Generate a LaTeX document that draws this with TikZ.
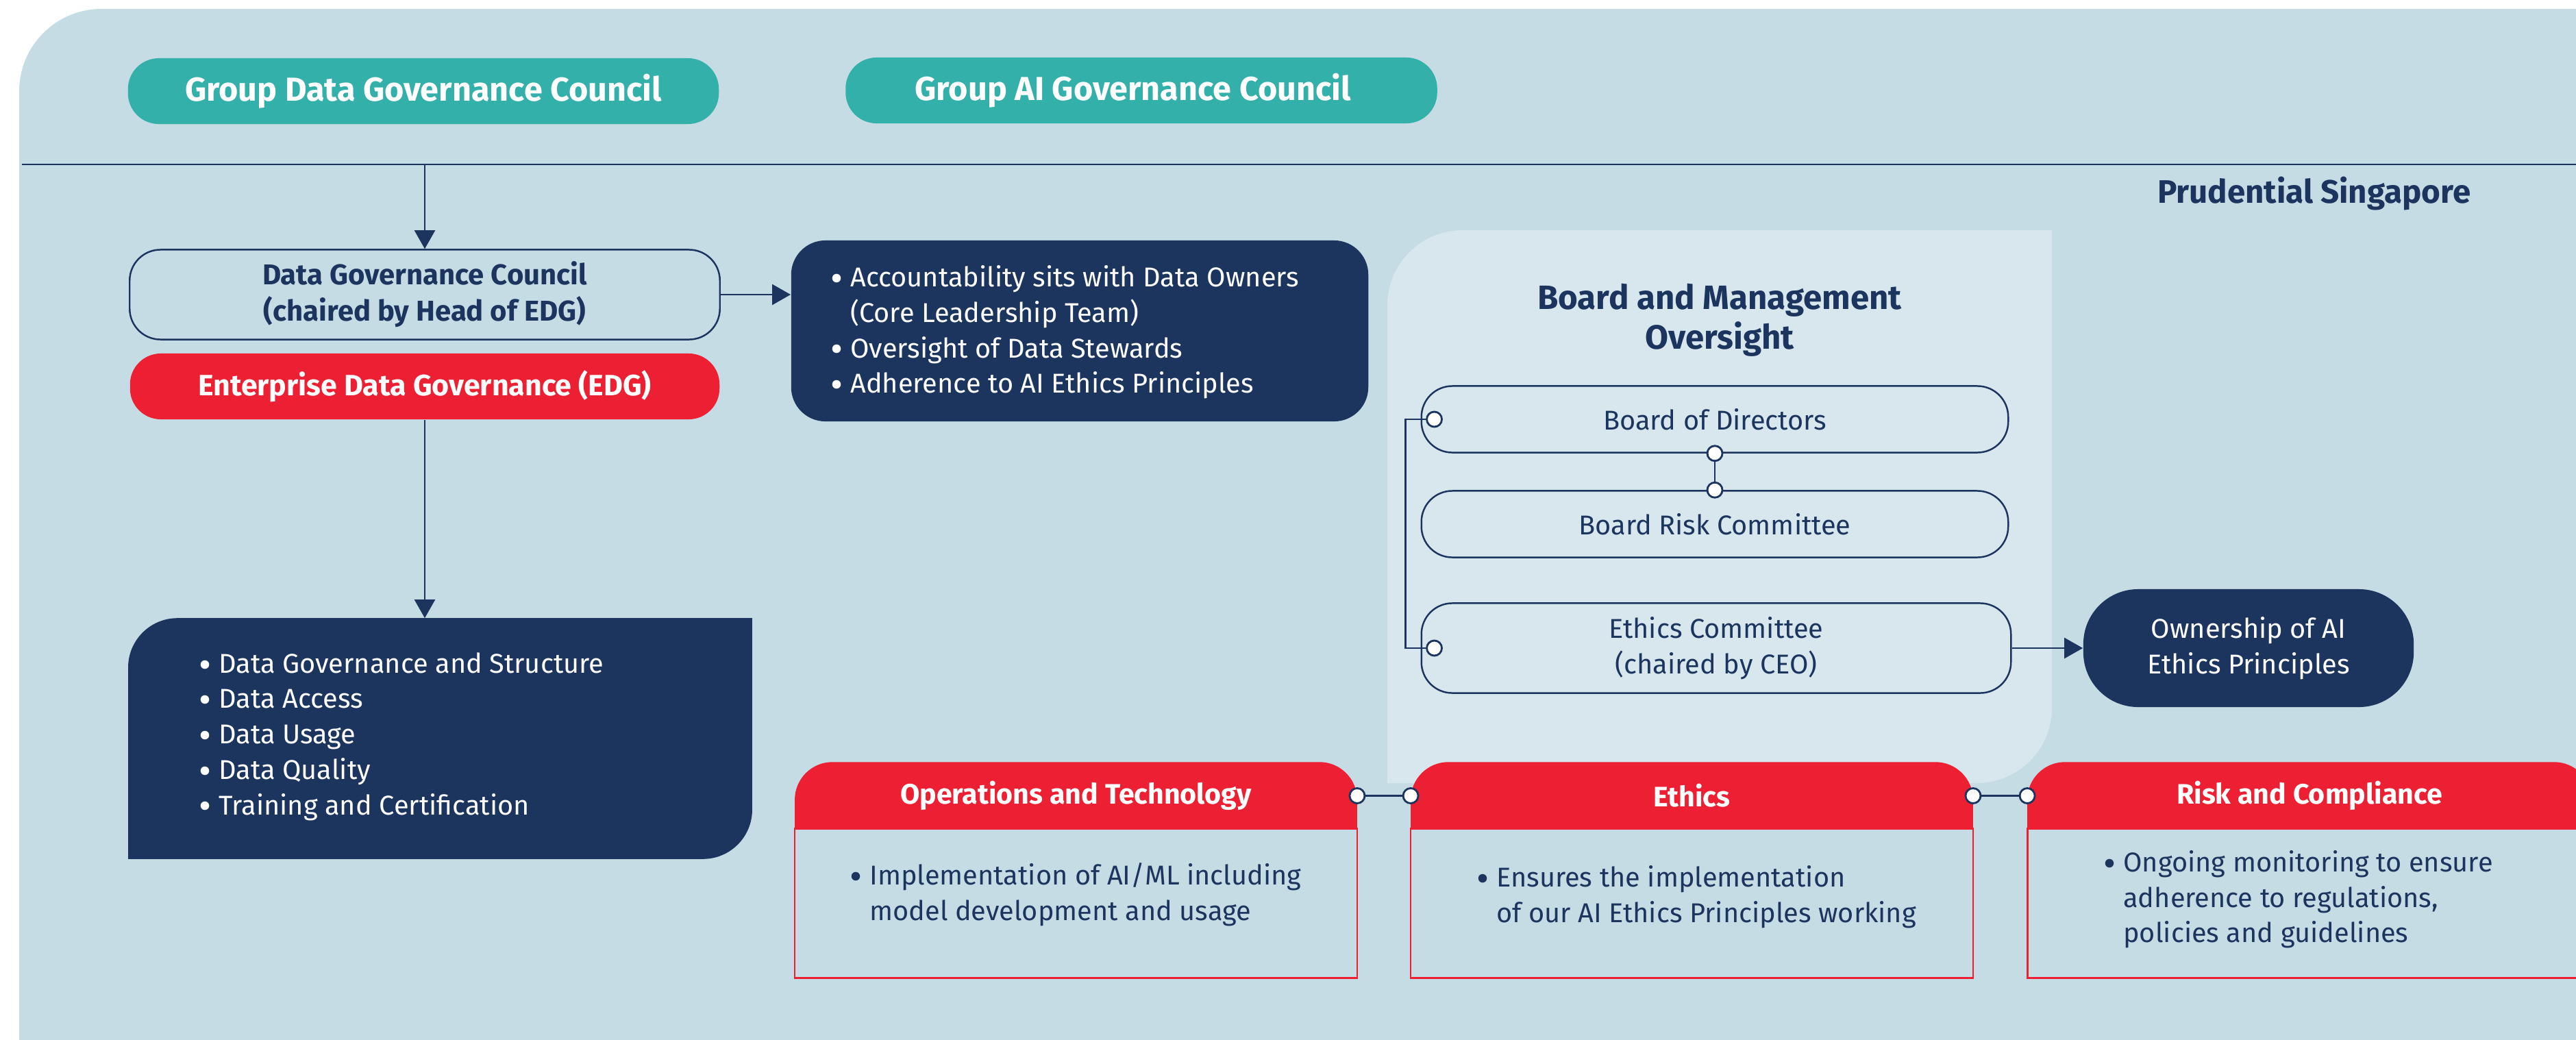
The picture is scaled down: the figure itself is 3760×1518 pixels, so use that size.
\documentclass[tikz,border=0pt]{standalone}
\usepackage{fontspec}
\setmainfont{Fira Sans}
\usetikzlibrary{arrows.meta,backgrounds}

\definecolor{bgblue}{HTML}{C5DCE4}
\definecolor{panelblue}{HTML}{D7E7ED}
\definecolor{navy}{HTML}{1C355E}
\definecolor{tealgreen}{HTML}{33B0AA}
\definecolor{pruRed}{HTML}{ED1F33}

\newcommand\fbig{\fontsize{13.8}{16}\selectfont\bfseries}
\newcommand\fpru{\fontsize{13.5}{16}\selectfont\bfseries}
\newcommand\fsub{\fontsize{11.9}{15}\selectfont\bfseries}
\newcommand\fred{\fontsize{12.2}{15}\selectfont\bfseries}
\newcommand\fhdr{\fontsize{11.7}{15}\selectfont\bfseries}
\newcommand\fbody{\fontsize{11.3}{14.7}\selectfont}
\newcommand\fttl{\fontsize{14}{16.5}\selectfont\bfseries}
% bullet mark and the matching indent for continuation lines
\newcommand\bul{\makebox[0.72em][l]{\raisebox{-0.17em}{\scalebox{1.4}{\textbullet}}}}
\newcommand\ind{\hspace*{0.72em}}

\begin{document}
\begin{tikzpicture}[x=0.01cm,y=-0.01cm,
  tealpill/.style={fill=tealgreen, text=white, font=\fbig, rounded corners=0.45cm,
    minimum width=8.62cm, minimum height=0.96cm, inner sep=0},
  outpill/.style={draw=navy, line width=0.7pt, text=navy, align=center,
    rounded corners=0.45cm, inner sep=0},
  redpill/.style={fill=pruRed, text=white, font=\fred, rounded corners=0.45cm,
    minimum width=8.6cm, minimum height=0.96cm, inner sep=0},
  listtext/.style={anchor=west, inner sep=0, align=left, font=\fbody},
  area/.style={inner sep=0},
  headtext/.style={area, text=white, font=\fhdr},
  joint/.style={circle, draw=navy, fill=white, line width=0.8pt, minimum size=0.22cm, inner sep=0},
  link/.style={draw=navy, line width=0.8pt},
  arrow/.style={draw=navy, line width=0.7pt, -{Triangle[length=0.27cm,width=0.3cm]}},
]
\useasboundingbox (0,0) rectangle (3760,1518);
\clip (0,0) rectangle (3760,1518);

% backdrop and the oversight panel
\begin{scope}[on background layer]
  \fill[bgblue] (28,1518) -- (28,133) .. controls (28,67) and (82,13) .. (148,13)
    -- (3760,13) -- (3760,1518) -- cycle;
  \fill[panelblue] (2025,1143) -- (2025,446) .. controls (2025,385) and (2074,336) .. (2135,336)
    -- (2995,336) -- (2995,1033) .. controls (2995,1094) and (2946,1143) .. (2885,1143) -- cycle;
\end{scope}
\coordinate (divL) at (32,240);
\coordinate (divR) at (3760,240);
\draw[navy, line width=0.8pt] (divL) -- (divR);

% group level
\node[tealpill] (gdgc) at (618,133) {Group Data Governance Council};
\node[tealpill, minimum width=8.63cm] (gaigc) at (1666,132) {\hspace*{-0.25cm}Group AI Governance Council};

\node[font=\fpru, text=navy, anchor=east, inner sep=0] (pru) at (3607,283) {Prudential Singapore};

% data governance column
\node[outpill, font=\fsub, minimum width=8.61cm, minimum height=1.31cm] (dgc) at (620,430)
  {Data Governance Council\\(chaired by Head of EDG)};
\node[redpill] (edg) at (620,564) {Enterprise Data Governance (EDG)};

\node[area, minimum width=9.09cm, minimum height=3.5cm] (dgbox) at (642.5,1078) {};
\begin{scope}[on background layer]
  \fill[navy, rounded corners=0.72cm] (dgbox.north west) rectangle (dgbox.south east);
  \fill[navy] (dgbox.north east) rectangle ([shift={(-0.8cm,-0.8cm)}]dgbox.north east);
  \fill[navy] (dgbox.south west) rectangle ([shift={(0.8cm,0.8cm)}]dgbox.south west);
\end{scope}
\node[listtext, text=white] (dglist) at (290,1075)
  {\bul Data Governance and Structure\\
   \bul Data Access\\
   \bul Data Usage\\
   \bul Data Quality\\
   \bul Training and Certification};

\node[area, fill=navy, rounded corners=0.5cm, minimum width=8.42cm, minimum height=2.64cm] (accbox) at (1576,483) {};
\node[listtext, text=white] (acclist) at (1212,485)
  {\bul Accountability sits with Data Owners\\
   \ind(Core Leadership Team)\\
   \bul Oversight of Data Stewards\\
   \bul Adherence to AI Ethics Principles};

\draw[arrow] (divL -| edg.north) -- (dgc.north);
\draw[arrow] (dgc.east) -- (dgc.east -| accbox.west);
\draw[arrow] (edg.south) -- (edg.south |- dgbox.north);

% board and management oversight
\node[font=\fttl, text=navy, align=center, inner sep=0] (bmo) at (2510,467)
  {Board and Management\\Oversight};
\node[outpill, font=\fbody, minimum width=8.56cm, minimum height=0.97cm] (bod) at (2503,612) {Board of Directors};
\node[outpill, font=\fbody, minimum width=8.56cm, minimum height=0.97cm] (brc) at (2503,765) {Board Risk Committee};
\node[outpill, font=\fbody, minimum width=8.6cm, minimum height=1.31cm] (ethc) at (2505,946)
  {Ethics Committee\\(chaired by CEO)};
\node[area, fill=navy, text=white, font=\fbody, align=center, rounded corners=0.8cm,
  minimum width=4.82cm, minimum height=1.72cm] (own) at (3282,946)
  {Ownership of AI\\Ethics Principles};

\draw[link] (bod.south) -- (brc.north);
\node[joint] (jbods) at (bod.south) {};
\node[joint] (jbrcn) at (brc.north) {};
\node[joint] (jbodw) at ([xshift=0.2cm]bod.west) {};
\node[joint] (jethw) at ([xshift=0.2cm]ethc.west) {};
\draw[link] (jbodw.west) -- ++(-30,0) |- (jethw.west);
\draw[arrow] (ethc.east) -- (own.west);

% functional boxes along the bottom
\node[headtext, minimum width=8.19cm, minimum height=0.97cm] (opsh) at (1570.5,1161.5) {Operations and Technology};
\node[headtext, minimum width=8.19cm, minimum height=0.97cm] (ethh) at (2469.5,1161.5) {Ethics};
\node[headtext, minimum width=8.22cm, minimum height=0.97cm] (riskh) at (3371,1161.5) {Risk and Compliance};
\node[area, minimum width=8.19cm, minimum height=2.17cm] (opsb) at (1570.5,1318.5) {};
\node[area, minimum width=8.19cm, minimum height=2.17cm] (ethb) at (2469.5,1318.5) {};
\node[area, minimum width=8.22cm, minimum height=2.17cm] (riskb) at (3371,1318.5) {};
\begin{scope}[on background layer]
  \foreach \h/\b in {opsh/opsb, ethh/ethb, riskh/riskb} {
    \fill[pruRed, rounded corners=0.55cm] (\h.north west) rectangle ([yshift=-0.6cm]\h.south east);
    \draw[pruRed, fill=bgblue, line width=0.8pt] (\b.north west) rectangle (\b.south east);
  }
\end{scope}

\node[listtext, text=navy] (opslist) at (1240,1306)
  {\bul Implementation of AI/ML including\\
   \ind model development and usage};
\node[listtext, text=navy] (ethlist) at (2155,1309)
  {\bul Ensures the implementation\\
   \ind of our AI Ethics Principles working};
\node[listtext, text=navy] (risklist) at (3070,1313)
  {\bul Ongoing monitoring to ensure\\
   \ind adherence to regulations,\\
   \ind policies and guidelines};

\node[joint] (jopse) at (opsh.east) {};
\node[joint] (jethw2) at (ethh.west) {};
\node[joint] (jethe) at (ethh.east) {};
\node[joint] (jriskw) at (riskh.west) {};
\draw[link, line width=1pt] (jopse) -- (jethw2);
\draw[link, line width=1pt] (jethe) -- (jriskw);
\end{tikzpicture}
\end{document}
